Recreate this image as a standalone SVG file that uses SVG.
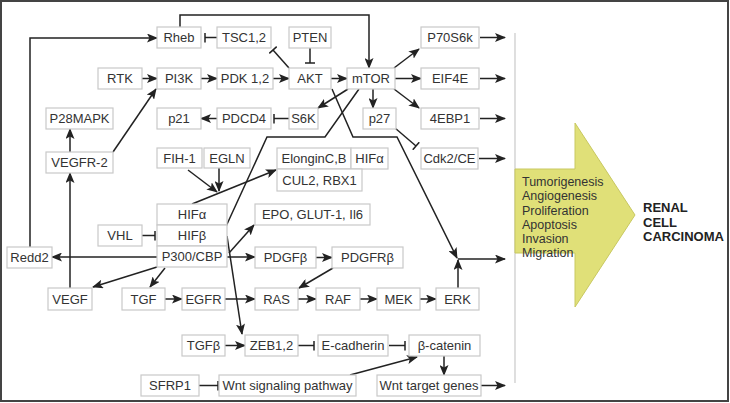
<svg xmlns="http://www.w3.org/2000/svg" width="730" height="403" viewBox="0 0 730 403">
<style>
.n rect{fill:#fff;stroke:#c9c9c9;stroke-width:1.2}
.n text{font-family:"Liberation Sans",Arial,sans-serif;font-size:13px;fill:#333;text-anchor:middle}
.e path{fill:none;stroke:#222;stroke-width:1.5}
.a{marker-end:url(#arr)}
.t{marker-end:url(#tee)}
.lbl{font-family:"Liberation Sans",Arial,sans-serif;font-size:12.5px;fill:#333}
.rcc{font-family:"Liberation Sans",Arial,sans-serif;font-size:13px;font-weight:bold;fill:#222}
</style>
<defs>
<marker id="arr" markerUnits="userSpaceOnUse" markerWidth="11" markerHeight="9" refX="10" refY="4.5" orient="auto" viewBox="0 0 11 9">
<path d="M0,0 L11,4.5 L0,9 L2.5,4.5 z" fill="#222"/>
</marker>
<marker id="tee" markerUnits="userSpaceOnUse" markerWidth="3" markerHeight="10" refX="1.5" refY="5" orient="auto" viewBox="0 0 3 10">
<path d="M1.5,0 V10" stroke="#222" stroke-width="1.5"/>
</marker>
</defs>
<rect x="0" y="0" width="730" height="403" fill="#fff"/>
<rect x="1" y="1" width="727" height="400" fill="none" stroke="#444" stroke-width="2"/>
<path d="M515,33 V383" stroke="#c9c9c9" stroke-width="1.2"/>
<g id="outcome">
<path d="M515,169 H575 V123 L635,215 L575,307 V253 H515 z" fill="#e0e078" stroke="#c8c860" stroke-width="1"/>
<text class="lbl" x="522" y="186">Tumorigenesis</text>
<text class="lbl" x="522" y="200">Angiogenesis</text>
<text class="lbl" x="522" y="214.5">Proliferation</text>
<text class="lbl" x="522" y="228.5">Apoptosis</text>
<text class="lbl" x="522" y="243">Invasion</text>
<text class="lbl" x="522" y="257">Migration</text>
</g>
<g id="rcc">
<text class="rcc" x="643" y="212">RENAL</text>
<text class="rcc" x="643" y="226.5">CELL</text>
<text class="rcc" x="643" y="241">CARCINOMA</text>
</g>
<g class="e" id="connectors">
<path class="a" d="M180,27 V15 H369 V68"/>
<path class="a" d="M30,247 V38 H157"/>
<path class="t" d="M217,37.5 H205"/>
<path class="t" d="M289,68 L273,50"/>
<path class="t" d="M310,48 V63"/>
<path class="a" d="M142,78.5 H157"/>
<path class="a" d="M201,78.5 H217"/>
<path class="a" d="M273,78.5 H289"/>
<path class="a" d="M331,78.5 H347"/>
<path class="a" d="M394,68 L419,49"/>
<path class="a" d="M395,78.5 H421"/>
<path class="a" d="M394,89 L419,108"/>
<path class="a" d="M373,89 V108"/>
<path class="a" d="M348,89 L318,108"/>
<path class="t" d="M289,118.5 H274"/>
<path class="a" d="M217,118.5 H201"/>
<path class="a" d="M480,37.5 H505"/>
<path class="a" d="M480,78.5 H505"/>
<path class="a" d="M480,118.5 H505"/>
<path class="a" d="M479,158.5 H505"/>
<path class="a" d="M458,259 H505"/>
<path class="a" d="M481,385.5 H505"/>
<path class="t" d="M395,128 L416,146"/>
<path class="a" d="M359,89 L325,137 H267 L217,246"/>
<path class="a" d="M332,89 L353,137 H397 L457,258"/>
<path class="a" d="M458,288 V260"/>
<path class="a" d="M188,170 L217,192"/>
<path class="a" d="M219,168 V191"/>
<path class="a" d="M192,204 L276,170"/>
<path class="a" d="M229,253 L254,225"/>
<path class="a" d="M227,257 H255"/>
<path class="a" d="M316,257.5 H332"/>
<path class="a" d="M333,268 L299,288"/>
<path class="a" d="M157,257 H52"/>
<path class="a" d="M70,288 V173"/>
<path class="a" d="M70,152 V129"/>
<path class="a" d="M113,152 L156,89"/>
<path class="t" d="M142,235.5 H155"/>
<path class="a" d="M157,267 L93,287"/>
<path class="a" d="M165,268 L150,287"/>
<path class="a" d="M165,299 H182"/>
<path class="a" d="M225,299 H255"/>
<path class="a" d="M298,299 H316"/>
<path class="a" d="M360,299 H377"/>
<path class="a" d="M420,299 H436"/>
<path class="a" d="M227,236 L242,334"/>
<path class="a" d="M225,345.5 H245"/>
<path class="t" d="M298,345.5 H314"/>
<path class="t" d="M389,345.5 H405"/>
<path class="a" d="M350,375 L417,357"/>
<path class="a" d="M444,356 V375"/>
<path class="t" d="M199,385.5 H218"/>
</g>
<g class="n" id="Rheb"><rect x="157" y="27" width="44" height="21"/><text x="179" y="42">Rheb</text></g>
<g class="n" id="TSC12"><rect x="217" y="27" width="54" height="21"/><text x="244" y="42">TSC1,2</text></g>
<g class="n" id="PTEN"><rect x="289" y="27" width="42" height="21"/><text x="310" y="42">PTEN</text></g>
<g class="n" id="P70S6k"><rect x="421" y="27" width="58" height="21"/><text x="450" y="42">P70S6k</text></g>
<g class="n" id="RTK"><rect x="98" y="68" width="44" height="21"/><text x="120" y="83">RTK</text></g>
<g class="n" id="PI3K"><rect x="157" y="68" width="44" height="21"/><text x="179" y="83">PI3K</text></g>
<g class="n" id="PDK12"><rect x="217" y="68" width="56" height="21"/><text x="245" y="83">PDK 1,2</text></g>
<g class="n" id="AKT"><rect x="289" y="68" width="42" height="21"/><text x="310" y="83">AKT</text></g>
<g class="n" id="mTOR"><rect x="347" y="68" width="48" height="21"/><text x="371" y="83">mTOR</text></g>
<g class="n" id="EIF4E"><rect x="421" y="68" width="58" height="21"/><text x="450" y="83">EIF4E</text></g>
<g class="n" id="P28MAPK"><rect x="46" y="108" width="67" height="21"/><text x="79.5" y="123">P28MAPK</text></g>
<g class="n" id="p21"><rect x="157" y="108" width="44" height="21"/><text x="179" y="123">p21</text></g>
<g class="n" id="PDCD4"><rect x="217" y="108" width="54" height="21"/><text x="244" y="123">PDCD4</text></g>
<g class="n" id="S6K"><rect x="289" y="108" width="29" height="21"/><text x="303.5" y="123">S6K</text></g>
<g class="n" id="p27"><rect x="363" y="108" width="33" height="21"/><text x="379.5" y="123">p27</text></g>
<g class="n" id="EBP1"><rect x="421" y="108" width="58" height="21"/><text x="450" y="123">4EBP1</text></g>
<g class="n" id="VEGFR2"><rect x="46" y="152" width="67" height="21"/><text x="79.5" y="167">VEGFR-2</text></g>
<g class="n" id="FIH1"><rect x="157" y="148" width="45" height="20"/><text x="179.5" y="162.5">FIH-1</text></g>
<g class="n" id="EGLN"><rect x="204" y="148" width="46" height="20"/><text x="227" y="162.5">EGLN</text></g>
<g class="n" id="ElonginCB"><rect x="277" y="148" width="74" height="21"/><text x="314" y="163">ElonginC,B</text></g>
<g class="n" id="HIFa2"><rect x="351" y="148" width="37" height="21"/><text x="369.5" y="163">HIFα</text></g>
<g class="n" id="CUL2"><rect x="277" y="169" width="85" height="22"/><text x="319.5" y="184.5">CUL2, RBX1</text></g>
<g class="n" id="Cdk2CE"><rect x="421" y="148" width="57" height="21"/><text x="449.5" y="163">Cdk2/CE</text></g>
<g class="n" id="HIFa"><rect x="157" y="204" width="70" height="21"/><text x="192" y="219">HIFα</text></g>
<g class="n" id="HIFb"><rect x="157" y="225" width="70" height="21"/><text x="192" y="240">HIFβ</text></g>
<g class="n" id="P300CBP"><rect x="157" y="246" width="70" height="21"/><text x="192" y="261">P300/CBP</text></g>
<g class="n" id="VHL"><rect x="98" y="225" width="44" height="21"/><text x="120" y="240">VHL</text></g>
<g class="n" id="Redd2"><rect x="7" y="247" width="45" height="21"/><text x="29.5" y="262">Redd2</text></g>
<g class="n" id="EPO"><rect x="255" y="204" width="115" height="21"/><text x="312.5" y="219">EPO, GLUT-1, Il6</text></g>
<g class="n" id="PDGFb"><rect x="255" y="247" width="61" height="21"/><text x="285.5" y="262">PDGFβ</text></g>
<g class="n" id="PDGFRb"><rect x="332" y="247" width="71" height="21"/><text x="367.5" y="262">PDGFRβ</text></g>
<g class="n" id="VEGF"><rect x="48" y="288" width="44" height="22"/><text x="70" y="303.5">VEGF</text></g>
<g class="n" id="TGF"><rect x="122" y="288" width="43" height="22"/><text x="143.5" y="303.5">TGF</text></g>
<g class="n" id="EGFR"><rect x="182" y="288" width="43" height="22"/><text x="203.5" y="303.5">EGFR</text></g>
<g class="n" id="RAS"><rect x="255" y="288" width="43" height="22"/><text x="276.5" y="303.5">RAS</text></g>
<g class="n" id="RAF"><rect x="316" y="288" width="44" height="22"/><text x="338" y="303.5">RAF</text></g>
<g class="n" id="MEK"><rect x="377" y="288" width="43" height="22"/><text x="398.5" y="303.5">MEK</text></g>
<g class="n" id="ERK"><rect x="436" y="288" width="43" height="22"/><text x="457.5" y="303.5">ERK</text></g>
<g class="n" id="TGFb"><rect x="182" y="335" width="43" height="21"/><text x="203.5" y="350">TGFβ</text></g>
<g class="n" id="ZEB12"><rect x="245" y="335" width="53" height="21"/><text x="271.5" y="350">ZEB1,2</text></g>
<g class="n" id="Ecad"><rect x="318" y="335" width="70" height="21"/><text x="353" y="350">E-cadherin</text></g>
<g class="n" id="bcat"><rect x="409" y="335" width="71" height="21"/><text x="444.5" y="350">β-catenin</text></g>
<g class="n" id="SFRP1"><rect x="141" y="375" width="58" height="21"/><text x="170" y="390">SFRP1</text></g>
<g class="n" id="Wnt"><rect x="219" y="375" width="137" height="21"/><text x="287.5" y="390">Wnt signaling pathway</text></g>
<g class="n" id="WntTarget"><rect x="377" y="375" width="104" height="21"/><text x="429" y="390">Wnt target genes</text></g>
</svg>
